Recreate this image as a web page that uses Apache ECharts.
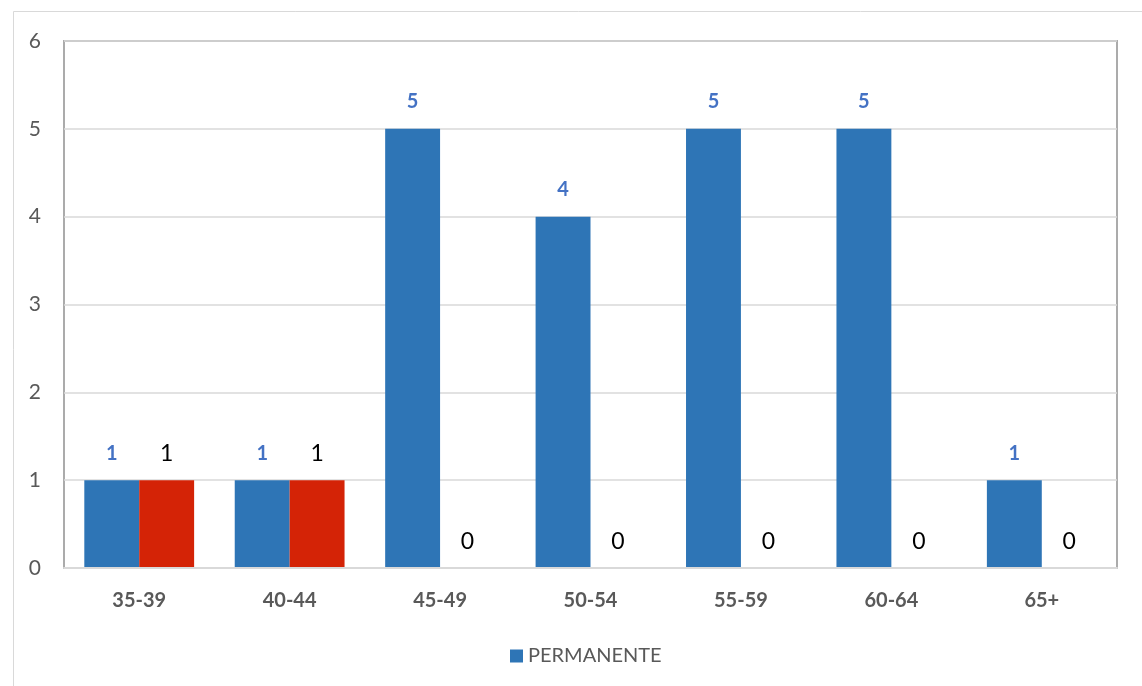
<!DOCTYPE html>
<html>
<head>
<meta charset="utf-8">
<script src="https://cdn.jsdelivr.net/npm/echarts@6/dist/echarts.min.js"></script>
<style>
html,body{margin:0;padding:0;background:#fff;}
#chart{width:1142px;height:686px;}
</style>
</head>
<body>
<div id="chart"></div>
<script>
const categories = ['35-39','40-44','45-49','50-54','55-59','60-64','65+'];
const permanente = [1,1,5,4,5,5,1];
const otros = [1,1,0,0,0,0,0];
const yTicks = [0,1,2,3,4,5,6];

const FONT = 'Lato, "Open Sans", sans-serif';
const chart = echarts.init(document.getElementById('chart'));
chart.setOption({
  animation: false,
  backgroundColor: '#ffffff',
  graphic: [{
    type: 'rect',
    shape: {x: 13.5, y: 11.5, width: 1160, height: 700},
    style: {fill: 'none', stroke: '#d9d9d9', lineWidth: 1},
    silent: true, z: -10
  }],
  grid: {
    left: 64, right: 25, top: 41, bottom: 118,
    show: true, borderColor: '#ababab', borderWidth: 2, backgroundColor: 'transparent'
  },
  legend: {
    data: ['PERMANENTE'],
    left: 505, top: 641,
    itemWidth: 13, itemHeight: 13, itemGap: 8,
    icon: 'rect',
    textStyle: {fontFamily: FONT, fontSize: 20, color: '#595959'}
  },
  xAxis: {
    type: 'category',
    data: categories,
    axisTick: {show: false},
    axisLine: {show: true, lineStyle: {color: '#d9d9d9', width: 2}},
    axisLabel: {fontFamily: FONT, fontSize: 20, fontWeight: 'bold', color: '#595959', margin: 23},
    z: 5
  },
  yAxis: {
    type: 'value',
    min: 0, max: 6, interval: 1,
    axisLine: {show: false},
    axisTick: {show: false},
    splitLine: {lineStyle: {color: '#d9d9d9', width: 1.5}},
    axisLabel: {fontFamily: FONT, fontSize: 21, color: '#595959', margin: 23,
      formatter: v => yTicks.includes(v) ? String(v) : ''}
  },
  series: [
    {
      name: 'PERMANENTE',
      type: 'bar',
      data: permanente,
      barGap: '0%',
      barCategoryGap: '27%',
      itemStyle: {color: '#2E75B6'},
      label: {show: true, position: 'top', distance: 17,
        fontFamily: FONT, fontSize: 20, fontWeight: 'bold', color: '#4472C4'}
    },
    {
      name: 'OTROS',
      type: 'bar',
      data: otros,
      barGap: '0%',
      barCategoryGap: '27%',
      itemStyle: {color: '#D42306'},
      label: {show: true, position: 'top', distance: 15,
        fontFamily: FONT, fontSize: 23, color: '#000000'}
    }
  ]
});
</script>
</body>
</html>
